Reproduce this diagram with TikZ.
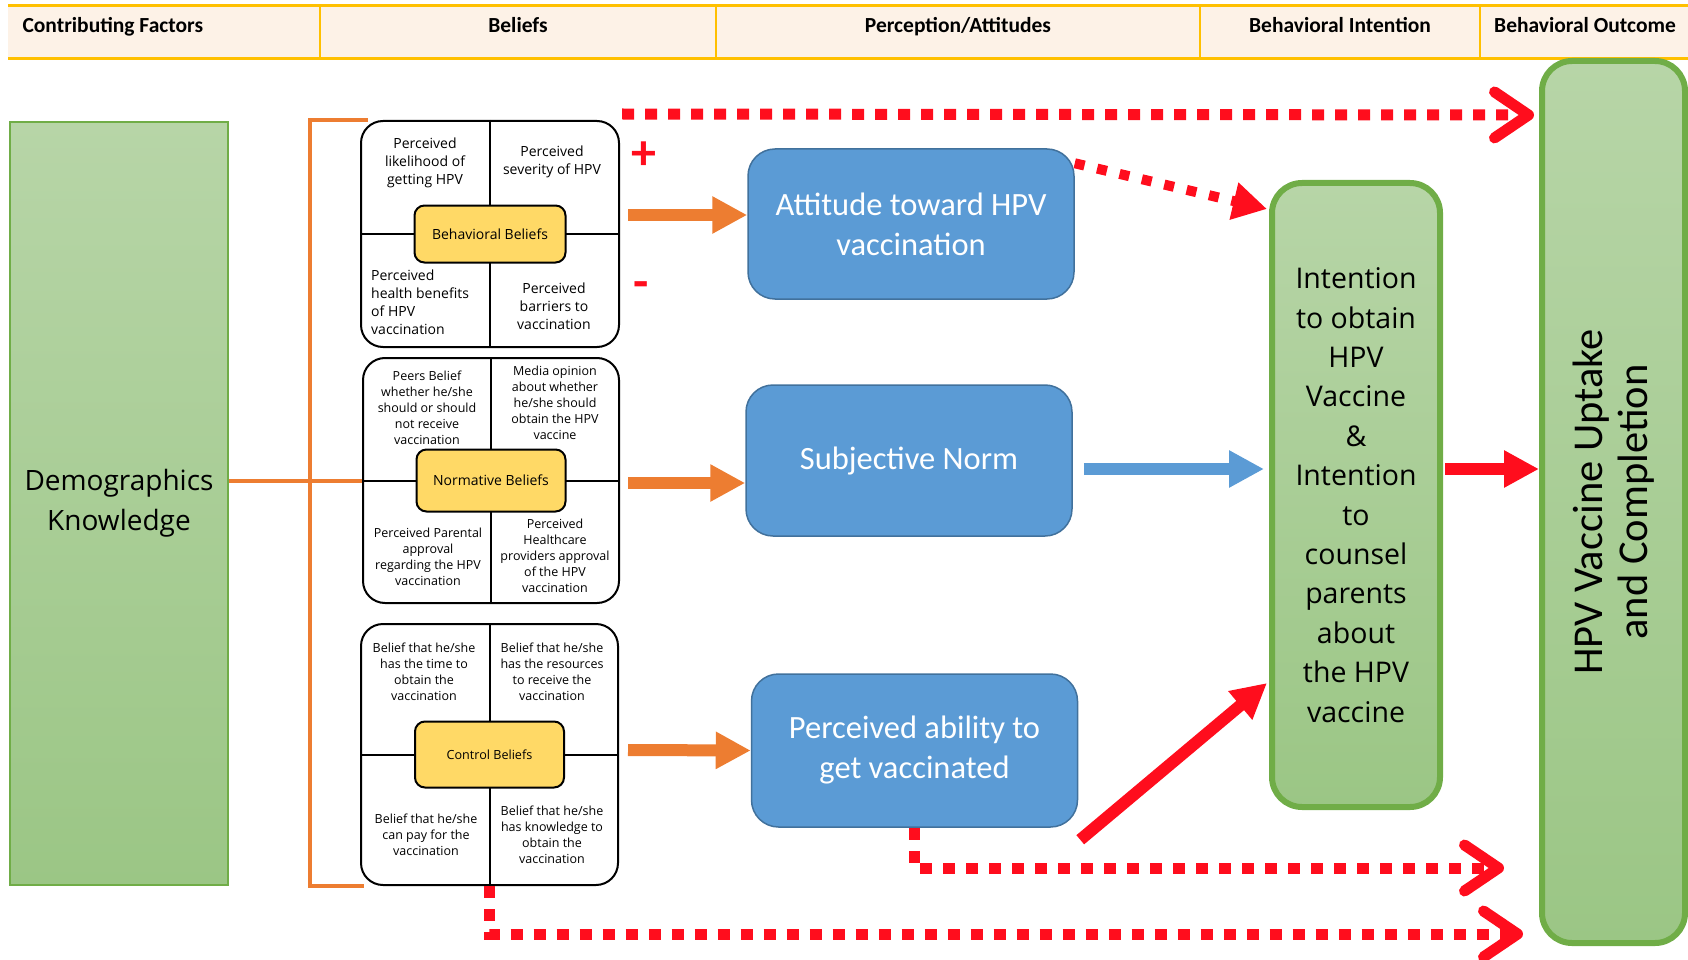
\documentclass[tikz,border=0pt]{standalone}
\usepackage{fontspec}
\setmainfont{Carlito}
\newfontfamily\opensans{Open Sans}
\usetikzlibrary{arrows.meta}

\definecolor{hdrgold}{HTML}{FFC000}
\definecolor{hdrfill}{HTML}{FDF2E7}
\definecolor{brorange}{HTML}{ED7D31}
\definecolor{nodeblue}{HTML}{5B9BD5}
\definecolor{nodeblueline}{HTML}{41719C}
\definecolor{grnline}{HTML}{70AD47}
\definecolor{grntop}{HTML}{B7D5A7}
\definecolor{grnbot}{HTML}{9BC685}
\definecolor{beliefyel}{HTML}{FFD966}
\definecolor{pathred}{HTML}{FF0D1D}

\tikzset{
  hdr/.style={font=\fontsize{21.5}{24}\selectfont\bfseries, text height=1.5ex, text depth=.25ex},
  factorbox/.style={draw=grnline, line width=2, top color=grntop, bottom color=grnbot,
    align=center, font=\opensans\fontsize{28}{40}\selectfont},
  beliefbox/.style={draw, line width=2, rounded corners=22},
  beliefcore/.style={draw, line width=2, fill=beliefyel, rounded corners=10},
  qtxt/.style={align=center, inner sep=0, font=\opensans\fontsize{14}{18}\selectfont},
  qtxtsm/.style={align=center, inner sep=0, font=\opensans\fontsize{12.5}{16}\selectfont},
  attbox/.style={draw=nodeblueline, line width=1.5, fill=nodeblue, rounded corners=27,
    minimum width=326, text=white, align=center, font=\fontsize{32.5}{40}\selectfont},
  intentbox/.style={draw=grnline, line width=6, top color=grntop, bottom color=grnbot,
    rounded corners=30, align=center, font=\opensans\fontsize{28.5}{39.4}\selectfont},
  brk/.style={brorange, line width=4},
  orgarr/.style={brorange, line width=12, -{Triangle[length=35pt,width=35pt]}},
  bluearr/.style={nodeblue, line width=12, -{Triangle[length=35pt,width=35pt]}},
  redarr/.style={pathred, line width=12, -{Triangle[length=35pt,width=35pt]}},
  reddots/.style={pathred, line width=11, dash pattern=on 12pt off 11pt,
    -{Straight Barb[length=34pt,width=46pt,round]}},
  reddiag/.style={pathred, line width=10, dash pattern=on 10pt off 13pt,
    -{Triangle[length=34pt,width=36pt]}},
  sign/.style={text=pathred, inner sep=0, font=\fontsize{50}{50}\selectfont\bfseries}
}

\begin{document}
\begin{tikzpicture}[x=1pt, y=-1pt]
  \useasboundingbox (0,0) rectangle (1688,960);

  % header row
  \fill[hdrfill] (8,6) rectangle (1688,59);
  \draw[hdrgold, line width=3] (8,6) -- (1688,6) (8,59) -- (1688,59);
  \foreach \x in {320,716,1200,1480}
    \draw[hdrgold, line width=1.5] (\x,6) -- (\x,59);
  \node[hdr, anchor=west] (hcf) at (19,30) {Contributing Factors};
  \node[hdr] (hbel) at (518,30) {Beliefs};
  \node[hdr] (hper) at (958,30) {Perception/Attitudes};
  \node[hdr] (hint) at (1340,30) {Behavioral Intention};
  \node[hdr] (hout) at (1585,30) {Behavioral Outcome};

  \node[factorbox, minimum width=218, minimum height=763] (demo) at (119,503.5) {Demographics\\Knowledge};

  % behavioral beliefs
  \node[beliefbox, minimum width=258, minimum height=226] (bb) at (490,234) {};
  \draw[line width=2] (bb.north) -- (bb.south) (bb.west) -- (bb.east);
  \node[beliefcore, minimum width=151, minimum height=57,
    font=\opensans\fontsize{14}{17}\selectfont] (bbc) at (bb.center) {Behavioral Beliefs};
  \node[qtxt] (bb1) at (425,163) {Perceived\\likelihood of\\getting HPV};
  \node[qtxt] (bb2) at (552,162) {Perceived\\severity of HPV};
  \node[qtxt, align=left, anchor=west] (bb3) at (371,302) {Perceived\\health benefits\\of HPV\\vaccination};
  \node[qtxt] (bb4) at (554,306) {Perceived\\barriers to\\vaccination};

  % normative beliefs
  \node[beliefbox, minimum width=256, minimum height=245] (nb) at (491,480.5) {};
  \draw[line width=2] (nb.north) -- (nb.south) (nb.west) -- (nb.east);
  \node[beliefcore, minimum width=149, minimum height=62,
    font=\opensans\fontsize{14}{17}\selectfont] (nbc) at (nb.center) {Normative Beliefs};
  \node[qtxtsm] (nb1) at (427,408) {Peers Belief\\whether he/she\\should or should\\not receive\\vaccination};
  \node[qtxtsm] (nb2) at (555,403) {Media opinion\\about whether\\he/she should\\obtain the HPV\\vaccine};
  \node[qtxtsm] (nb3) at (428,557) {Perceived Parental\\approval\\regarding the HPV\\vaccination};
  \node[qtxtsm] (nb4) at (555,556) {Perceived\\Healthcare\\providers approval\\of the HPV\\vaccination};

  % control beliefs
  \node[beliefbox, minimum width=257, minimum height=261] (cb) at (489.5,754.5) {};
  \draw[line width=2] (cb.north) -- (cb.south) (cb.west) -- (cb.east);
  \node[beliefcore, minimum width=149, minimum height=66,
    font=\opensans\fontsize{12.6}{16}\selectfont] (cbc) at (cb.center) {Control Beliefs};
  \node[qtxtsm] (cb1) at (424,672) {Belief that he/she\\has the time to\\obtain the\\vaccination};
  \node[qtxtsm] (cb2) at (552,672) {Belief that he/she\\has the resources\\to receive the\\vaccination};
  \node[qtxtsm] (cb3) at (426,835) {Belief that he/she\\can pay for the\\vaccination};
  \node[qtxtsm] (cb4) at (552,835) {Belief that he/she\\has knowledge to\\obtain the\\vaccination};

  \draw[brk] ([xshift=8]bb.north west) -| ([xshift=-50]cb.south west) -- ([xshift=4]cb.south west);
  \draw[brk] (demo.east |- nb.west) -- (nb.west);

  \node[sign] (plus) at (644,156) {+};
  \node[sign] (minus) at (641,290) {-};

  % perception / attitudes
  \node[attbox, minimum height=150] (att) at (911,224) {Attitude toward HPV\\vaccination};
  \node[attbox, minimum height=151] (sn) at (909,460.5) {Subjective Norm};
  \node[attbox, minimum height=153] (pa) at (914.5,750.5) {Perceived ability to\\get vaccinated};

  \node[intentbox, minimum width=168, minimum height=624] (intent) at (1356,495)
    {Intention\\to obtain\\HPV\\Vaccine\\\&\\Intention\\to\\counsel\\parents\\about\\the HPV\\vaccine};

  \node[intentbox, rounded corners=30, minimum width=143, minimum height=882] (hpv) at (1613.5,502) {};
  \node[rotate=90, align=center, font=\fontsize{42.5}{45}\selectfont] (hpvtxt) at (hpv.center)
    {HPV Vaccine Uptake\\and Completion};

  \coordinate (topend) at (1534,115);
  \coordinate (paend) at (1504,868);
  \coordinate (cbend) at (1523,934);

  \draw[orgarr] ([xshift=8,yshift=19]bb.east) -- ([yshift=9]att.west);
  \draw[orgarr] ([xshift=8,yshift=-2.5]nb.east) -- ([yshift=-22.5]sn.west);
  \draw[orgarr] ([xshift=9,yshift=4.5]cb.east) -- (pa.west);
  \draw[bluearr] ([xshift=11,yshift=-8.5]sn.east) -- ([xshift=-5,yshift=26]intent.west);
  \draw[redarr] ([xshift=2,yshift=26]intent.east) -- ([yshift=33]hpv.west);
  \draw[redarr] ([xshift=2,yshift=-12]pa.south east) -- ([xshift=-2,yshift=127]intent.south west);
  \draw[reddiag] ([yshift=-15]att.north east) -- ([xshift=-2,yshift=-29]intent.north west);

  \draw[reddots] ([xshift=2,yshift=6]bb.north east) -- (topend);
  \draw[reddots] (pa.south) |- (paend);
  \draw[reddots] (cb.south) |- (cbend);
\end{tikzpicture}
\end{document}
